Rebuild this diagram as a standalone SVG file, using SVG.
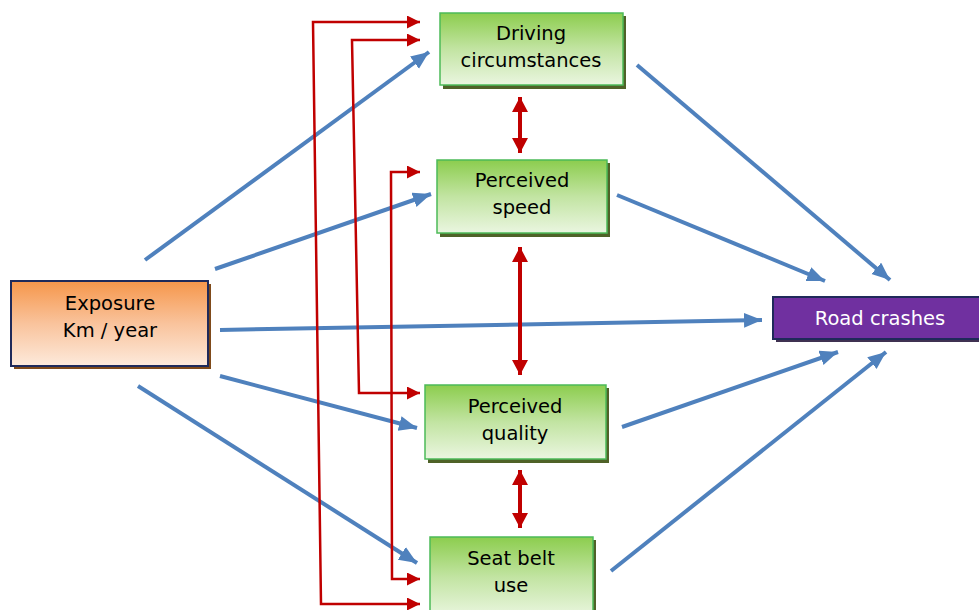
<svg xmlns="http://www.w3.org/2000/svg" width="979" height="610" viewBox="0 0 979 610">
<defs>
<linearGradient id="gGreen" x1="0" y1="0" x2="0" y2="1">
<stop offset="0" stop-color="#8ccd4e"/>
<stop offset="0.5" stop-color="#c2e4a2"/>
<stop offset="1" stop-color="#eaf6e0"/>
</linearGradient>
<linearGradient id="gOrange" x1="0" y1="0" x2="0" y2="1">
<stop offset="0" stop-color="#f6964a"/>
<stop offset="0.5" stop-color="#f9c39c"/>
<stop offset="1" stop-color="#fdeadc"/>
</linearGradient>
<marker id="blueHead" markerUnits="userSpaceOnUse" markerWidth="20" markerHeight="16" refX="18" refY="7.5" orient="auto">
<path d="M0,0 L18,7.5 L0,15 z" fill="#4f81bd"/>
</marker>
<marker id="redHead" markerUnits="userSpaceOnUse" markerWidth="16" markerHeight="14" refX="13" refY="6.5" orient="auto-start-reverse">
<path d="M0,0 L13,6.5 L0,13 z" fill="#c00000"/>
</marker>
<marker id="redBig" markerUnits="userSpaceOnUse" markerWidth="18" markerHeight="18" refX="15" refY="8" orient="auto-start-reverse">
<path d="M0,0 L15,8 L0,16 z" fill="#c00000"/>
</marker>
</defs>
<style>
.shG{fill:#4f6228}
.shO{fill:#7f4a1a}
.shP{fill:#3f3151}
.bG{fill:url(#gGreen);stroke:#4cba58;stroke-width:1.5}
.bO{fill:url(#gOrange);stroke:#1f2a5a;stroke-width:2}
.bP{fill:#7030a0;stroke:#1f2a5a;stroke-width:2}
.t{font-family:"DejaVu Sans",Verdana,sans-serif;font-size:19.5px;fill:#000;text-anchor:middle}
.tw{font-family:"DejaVu Sans",Verdana,sans-serif;font-size:19.5px;fill:#fff;text-anchor:middle}
.blue{stroke:#4f81bd;stroke-width:4;fill:none;marker-end:url(#blueHead)}
.red{stroke:#c00000;stroke-width:2.5;fill:none;marker-start:url(#redHead);marker-end:url(#redHead)}
.redv{stroke:#c00000;stroke-width:4;fill:none;marker-start:url(#redBig);marker-end:url(#redBig)}
</style>
<g id="connectors">
<line class="blue" x1="145" y1="260" x2="429" y2="52"/>
<line class="blue" x1="215" y1="269" x2="431" y2="194"/>
<line class="blue" x1="220" y1="330" x2="762" y2="320"/>
<line class="blue" x1="220" y1="376" x2="417" y2="428"/>
<line class="blue" x1="138" y1="386" x2="417" y2="563"/>
<line class="blue" x1="637" y1="65" x2="890" y2="280"/>
<line class="blue" x1="617" y1="195" x2="825" y2="281"/>
<line class="blue" x1="622" y1="427" x2="838" y2="352"/>
<line class="blue" x1="611" y1="571" x2="886" y2="352"/>
<path class="red" d="M420,22 H313 L321,604 H420"/>
<path class="red" d="M420,40 H352 L359,393 H420"/>
<path class="red" d="M420,172 H391 L392,579 H420"/>
<line class="redv" x1="520" y1="97" x2="520" y2="153"/>
<line class="redv" x1="520" y1="247" x2="520" y2="375"/>
<line class="redv" x1="520" y1="470" x2="520" y2="528"/>
</g>
<g id="driving">
<rect class="shG" x="443" y="16" width="183" height="73"/>
<rect class="bG" x="440" y="13" width="183" height="72"/>
<text class="t" x="531" y="40">Driving</text>
<text class="t" x="531" y="67">circumstances</text>
</g>
<g id="speed">
<rect class="shG" x="440" y="163" width="170" height="74"/>
<rect class="bG" x="437" y="160" width="170" height="73"/>
<text class="t" x="522" y="187">Perceived</text>
<text class="t" x="522" y="214">speed</text>
</g>
<g id="quality">
<rect class="shG" x="428" y="388" width="181" height="75"/>
<rect class="bG" x="425" y="385" width="181" height="74"/>
<text class="t" x="515" y="413">Perceived</text>
<text class="t" x="515" y="440">quality</text>
</g>
<g id="seatbelt">
<rect class="shG" x="433" y="540" width="163" height="80"/>
<rect class="bG" x="430" y="537" width="163" height="80"/>
<text class="t" x="511" y="565">Seat belt</text>
<text class="t" x="511" y="592">use</text>
</g>
<g id="exposure">
<rect class="shO" x="14" y="284" width="197" height="85"/>
<rect class="bO" x="11" y="281" width="197" height="85"/>
<text class="t" x="110" y="310">Exposure</text>
<text class="t" x="110" y="337">Km / year</text>
</g>
<g id="roadcrashes">
<rect class="shP" x="776" y="300" width="210" height="42"/>
<rect class="bP" x="773" y="297" width="210" height="42"/>
<text class="tw" x="880" y="325">Road crashes</text>
</g>
</svg>
